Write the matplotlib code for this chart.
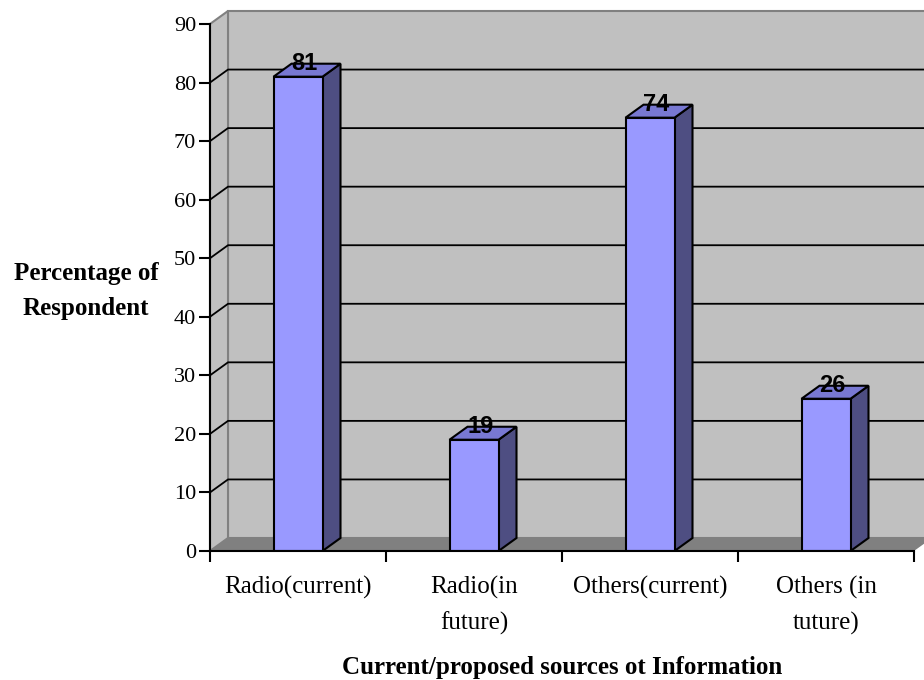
import matplotlib.pyplot as plt
from matplotlib.patches import Polygon

# Dados do gráfico
categorias = ["Radio(current)", "Radio(in\nfuture)", "Others(current)", "Others (in\ntuture)"]
valores = [81, 19, 74, 26]
ticks_y = list(range(0, 100, 10))

cor_frente = "#9999FF"
cor_lado = "#4E4E82"
cor_topo = "#7878D2"
cor_parede = "#C0C0C0"
cor_piso = "#808080"

fig = plt.figure(figsize=(9.24, 6.8), dpi=100)
ax = fig.add_axes([210 / 924, 129 / 680, 704 / 924, 527 / 680])
ax.set_facecolor("none")
ax.set_xlim(0, len(categorias))
ax.set_ylim(0, 90)

# deslocamento 3D (profundidade) em unidades de dados
dx = 18 / 176
dy = 13 / (527 / 90)
n = len(categorias)
ymax = ticks_y[-1]

# parede de fundo, parede lateral e piso
ax.add_patch(Polygon([(dx, dy), (n + dx, dy), (n + dx, ymax + dy), (dx, ymax + dy)],
                     closed=True, facecolor=cor_parede, edgecolor=cor_piso, lw=1.5, clip_on=False, zorder=0))
ax.add_patch(Polygon([(0, 0), (dx, dy), (dx, ymax + dy), (0, ymax)],
                     closed=True, facecolor=cor_parede, edgecolor=cor_piso, lw=1.5, clip_on=False, zorder=0))
ax.add_patch(Polygon([(0, 0), (n, 0), (n + dx, dy), (dx, dy)],
                     closed=True, facecolor=cor_piso, edgecolor="none", clip_on=False, zorder=0.5))

# linhas de grade
for v in ticks_y[1:-1]:
    ax.plot([0, dx, n + dx], [v, v + dy, v + dy], color="black", lw=1.3, clip_on=False, zorder=1)

# barras
largura = 49 / 176
xs = [i + 0.5 for i in range(n)]
barras = ax.bar(xs, valores, width=largura, color=cor_frente, edgecolor="black", lw=1.5, zorder=3)
for b, v in zip(barras, valores):
    xl = b.get_x()
    xr = xl + b.get_width()
    ax.add_patch(Polygon([(xr, 0), (xr + dx, dy), (xr + dx, v + dy), (xr, v)], closed=True,
                         facecolor=cor_lado, edgecolor="black", lw=1.5, zorder=2.5, clip_on=False))
    ax.add_patch(Polygon([(xl, v), (xr, v), (xr + dx, v + dy), (xl + dx, v + dy)], closed=True,
                         facecolor=cor_topo, edgecolor="black", lw=1.5, zorder=2.5, clip_on=False))
    ax.text(xl + largura / 2 + dx * 0.35, v + dy, str(v), ha="center", va="center",
            fontsize=17, fontweight="bold", family="Liberation Sans", zorder=5)

# eixos
for s in ["top", "right"]:
    ax.spines[s].set_visible(False)
ax.spines["left"].set_linewidth(1.5)
ax.spines["bottom"].set_linewidth(1.5)
ax.spines["left"].set_zorder(4)
ax.spines["bottom"].set_zorder(4)

ax.set_yticks(ticks_y)
ax.set_yticklabels([str(t) for t in ticks_y], fontsize=16, family="Liberation Serif")
ax.tick_params(axis="y", length=8, width=1.5, pad=2)

ax.set_xticks(range(n + 1))
ax.set_xticklabels([""] * (n + 1))
ax.tick_params(axis="x", which="major", length=8, width=1.5)
ax.set_xticks(xs, minor=True)
ax.set_xticklabels(categorias, minor=True, fontsize=18, family="Liberation Serif", linespacing=1.7)
ax.tick_params(axis="x", which="minor", length=0, pad=18)

ax.set_xlabel("Current/proposed sources ot Information", fontsize=18, fontweight="bold",
              family="Liberation Serif", labelpad=15)
fig.text(86 / 924, 1 - 291 / 680, "Percentage of\nRespondent", ha="center", va="center",
         fontsize=18, fontweight="bold", family="Liberation Serif", linespacing=1.7)

fig.savefig("out.png", dpi=100)
